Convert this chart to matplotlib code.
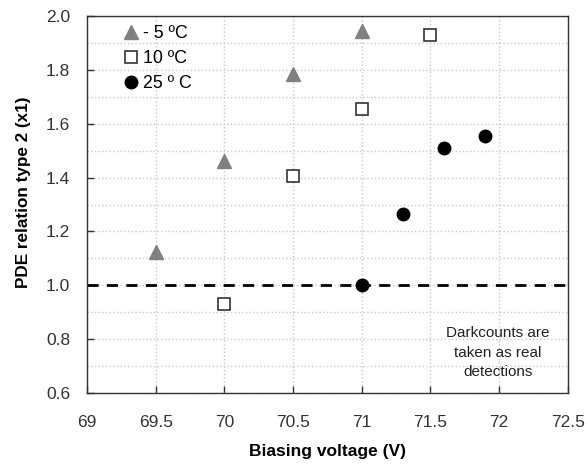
import matplotlib
matplotlib.use("Agg")
import matplotlib.pyplot as plt
from matplotlib.ticker import MultipleLocator

plt.rcParams['font.family'] = ['Liberation Sans', 'DejaVu Sans']

# data
v_m5 = [69.5, 70.0, 70.5, 71.0]
pde_m5 = [1.125, 1.46, 1.785, 1.943]

v_10 = [70.0, 70.5, 71.0, 71.5]
pde_10 = [0.93, 1.405, 1.655, 1.928]

v_25 = [71.0, 71.3, 71.6, 71.9]
pde_25 = [1.0, 1.265, 1.509, 1.555]

labels = ['- 5 ºC', '10 ºC', '25 º C']

fig = plt.figure(figsize=(5.86, 4.67), dpi=100)
ax = fig.add_axes([0.1485, 0.1585, 0.8205, 0.807])

ax.plot(v_m5, pde_m5, '^', color='#808080', ms=10, mec='#808080', label=labels[0], zorder=3)
ax.plot(v_10, pde_10, 's', mfc='white', mec='#333333', mew=1.2, ms=8, label=labels[1], zorder=3)
ax.plot(v_25, pde_25, 'o', color='black', ms=9, label=labels[2], zorder=3)

ax.axhline(1.0, color='black', ls=(0, (4, 3)), lw=2, zorder=2)

ax.set_xlim(69, 72.5)
ax.set_ylim(0.6, 2.0)
ax.xaxis.set_major_locator(MultipleLocator(0.5))
ax.yaxis.set_major_locator(MultipleLocator(0.2))
ax.yaxis.set_minor_locator(MultipleLocator(0.1))
ax.yaxis.set_major_formatter(plt.FormatStrFormatter('%.1f'))
ax.xaxis.set_major_formatter(plt.FuncFormatter(lambda v, p: f'{v:g}'))

ax.grid(True, which='both', axis='y', color='#c8c8c8', ls=':', lw=1, zorder=0)
ax.grid(True, which='major', axis='x', color='#c8c8c8', ls=':', lw=1, zorder=0)
ax.tick_params(axis='both', which='major', direction='in', length=5, width=1,
               colors='#333333', labelsize=12.5)
ax.tick_params(axis='y', pad=12)
ax.tick_params(axis='x', pad=16)
ax.tick_params(axis='both', which='minor', length=0)
ax.tick_params(axis='x', top=False)
ax.tick_params(axis='y', right=False)
for s in ax.spines.values():
    s.set_color('#333333')
    s.set_linewidth(1)

ax.set_xlabel('Biasing voltage (V)', fontsize=12.5, fontweight='bold', labelpad=10)
ax.set_ylabel('PDE relation type 2 (x1)', fontsize=12.3, fontweight='bold')
ax.yaxis.set_label_coords(-0.116, 0.533)

ax.legend(loc='upper left', bbox_to_anchor=(0.055, 1.0), frameon=False, fontsize=12.8,
          handlelength=1.0, handletextpad=0.15, labelspacing=0.45, borderaxespad=0.1)

ax.text(71.99, 0.749, 'Darkcounts are\ntaken as real\ndetections', fontsize=11,
        ha='center', va='center', color='#222222', linespacing=1.5)

fig.savefig('out.png', dpi=100)
